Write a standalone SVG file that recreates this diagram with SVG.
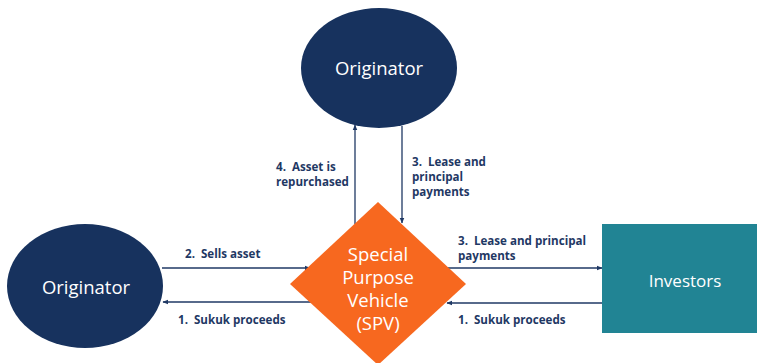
<svg xmlns="http://www.w3.org/2000/svg" width="757" height="363" viewBox="0 0 757 363">
  <style>
    .node { fill: #17325e; }
    .ntext { fill: #ffffff; font-family: "Open Sans", "Noto Sans", sans-serif; font-size: 17px; text-anchor: middle; }
    .big { font-size: 18.5px; }
    .spv { font-size: 18.5px; }
    .label { fill: #1f3864; font-family: "Open Sans", "Noto Sans", sans-serif; font-size: 11.6px; font-weight: bold; white-space: pre; }
    .conn { stroke: #1f3864; stroke-width: 1.3; fill: none; marker-end: url(#arrow); }
  </style>
  <defs>
    <marker id="arrow" viewBox="0 0 10 10" refX="9" refY="5" markerWidth="6" markerHeight="6" orient="auto" markerUnits="userSpaceOnUse">
      <path d="M0,1 L10,5 L0,9 z" fill="#1f3864"/>
    </marker>
  </defs>
  <rect width="757" height="363" fill="#ffffff"/>
  <g id="connectors">
    <line class="conn" x1="162" y1="268" x2="310" y2="268"/>
    <line class="conn" x1="311" y1="302" x2="163" y2="302"/>
    <line class="conn" x1="447" y1="268" x2="602" y2="268"/>
    <line class="conn" x1="602" y1="303" x2="447" y2="303"/>
    <line class="conn" x1="355" y1="224" x2="355" y2="125"/>
    <line class="conn" x1="402" y1="126" x2="402" y2="223"/>
  </g>
  <g id="labels" xml:space="preserve">
    <text class="label" x="185" y="258">2.  Sells asset</text>
    <text class="label" x="178" y="324">1.  Sukuk proceeds</text>
    <text class="label" x="458" y="245">3.  Lease and principal</text>
    <text class="label" x="458" y="260">payments</text>
    <text class="label" x="458" y="324">1.  Sukuk proceeds</text>
    <text class="label" x="276" y="171">4.  Asset is</text>
    <text class="label" x="276" y="186">repurchased</text>
    <text class="label" x="412" y="166">3.  Lease and</text>
    <text class="label" x="412" y="181">principal</text>
    <text class="label" x="412" y="196">payments</text>
  </g>
  <g id="originator-top">
    <ellipse class="node" cx="379" cy="68" rx="78" ry="60"/>
    <text class="ntext big" x="379" y="75">Originator</text>
  </g>
  <g id="originator-left">
    <ellipse class="node" cx="85" cy="286" rx="78" ry="62"/>
    <text class="ntext big" x="86" y="294">Originator</text>
  </g>
  <g id="spv">
    <polygon points="378,202 466,284 378,365 290,284" fill="#f7681f"/>
    <text class="ntext spv" x="378" y="261">Special</text>
    <text class="ntext spv" x="378" y="284">Purpose</text>
    <text class="ntext spv" x="378" y="307">Vehicle</text>
    <text class="ntext spv" x="378" y="330">(SPV)</text>
  </g>
  <g id="investors">
    <rect x="602" y="224" width="160" height="109" fill="#218494"/>
    <text class="ntext" x="685" y="287">Investors</text>
  </g>
</svg>
